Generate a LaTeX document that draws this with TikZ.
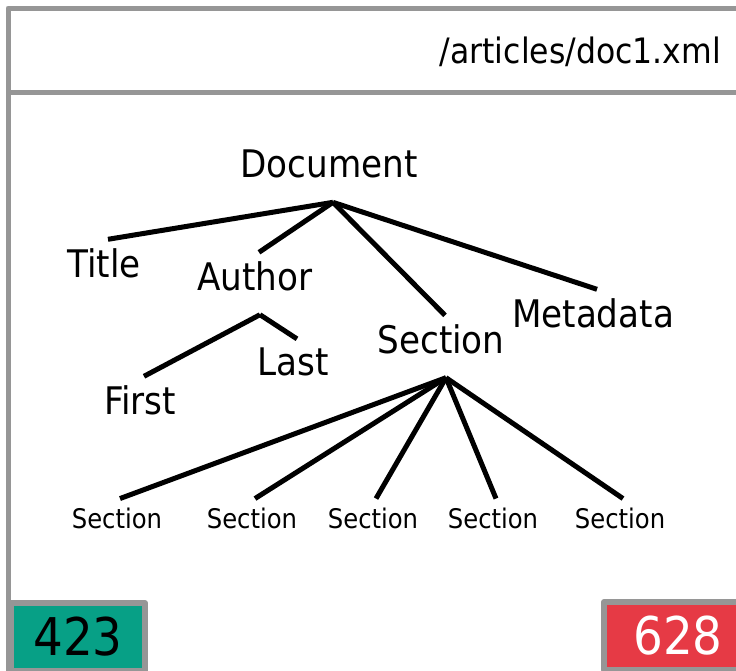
\documentclass[tikz,border=0pt]{standalone}
\usepackage{fontspec}
\setmainfont{DejaVu Sans Condensed}
\usepackage{xcolor}
\usepackage{tikz}
\usetikzlibrary{positioning,calc}

\definecolor{framegray}{RGB}{150,150,150}
\definecolor{hitteal}{RGB}{7,160,134}
\definecolor{missred}{RGB}{230,58,69}

\begin{document}
\begin{tikzpicture}[x=1pt,y=-1pt, line join=round]
	\useasboundingbox (0,0) rectangle (736,670);
	\clip (0,0) rectangle (736,670);
	
	% ===== styles =====
	\tikzset{
		label/.style={font=\fontsize{38}{44}\selectfont, inner sep=2pt},
		leaf/.style={label, outer sep=7pt},
		small/.style={font=\fontsize{27}{31}\selectfont, inner sep=2pt, outer sep=7pt},
		branch/.style={line width=5pt, black},
		counter/.style={draw=framegray, line width=6pt, anchor=north west, inner sep=0pt, outer sep=0pt,
			minimum width=134pt, minimum height=68pt, font=\fontsize{52}{60}\selectfont}
	}
	
	% ===== frame =====
	\draw[framegray, line width=5pt] (8,700) -- (8,8) -- (760,8);
	\draw[framegray, line width=5pt] (8,92) -- (760,92);
	\node[anchor=east, inner sep=0pt, font=\fontsize{35}{41}\selectfont] (path) at (721,52) {/articles/doc1.xml};
	
	% ===== tree =====
	\node[label] (doc) at (329,164) {Document};
	\node[leaf] (title) at (104,263) {Title};
	\node[leaf] (author) at (255,276) {Author};
	\node[leaf] (sect) at (441,339) {Section};
	\node[leaf] (meta) at (593,313) {Metadata};
	\node[leaf] (first) at (140,400) {First};
	\node[leaf] (last) at (293,362) {Last};
	
	\coordinate (docfork) at ([xshift=4pt,yshift=-22pt]doc.south);
	\coordinate (authfork) at ([xshift=5pt,yshift=-15pt]author.south);
	\coordinate (sectfork) at ([xshift=5pt,yshift=-15pt]sect.south);
	
	\foreach \n in {title,author,sect,meta}{
		\draw[branch] (docfork) -- ([xshift=4pt]\n.north);
	}
	\foreach \n in {first,last}{
		\draw[branch] (authfork) -- ([xshift=4pt]\n.north);
	}
	
	% ===== sub-sections =====
	\foreach \x [count=\i] in {117,252,373,493,620}{
		\node[small] (sub\i) at (\x,518) {Section};
		\draw[branch] (sectfork) -- ([xshift=3pt]sub\i.north);
	}
	
	% ===== counters =====
	\node[counter, fill=hitteal] (hits) at (11,603) {423};
	\node[counter, fill=missred, text=white, minimum width=160pt] (misses) at (604,602) {628\hspace*{12pt}};
\end{tikzpicture}
\end{document}
